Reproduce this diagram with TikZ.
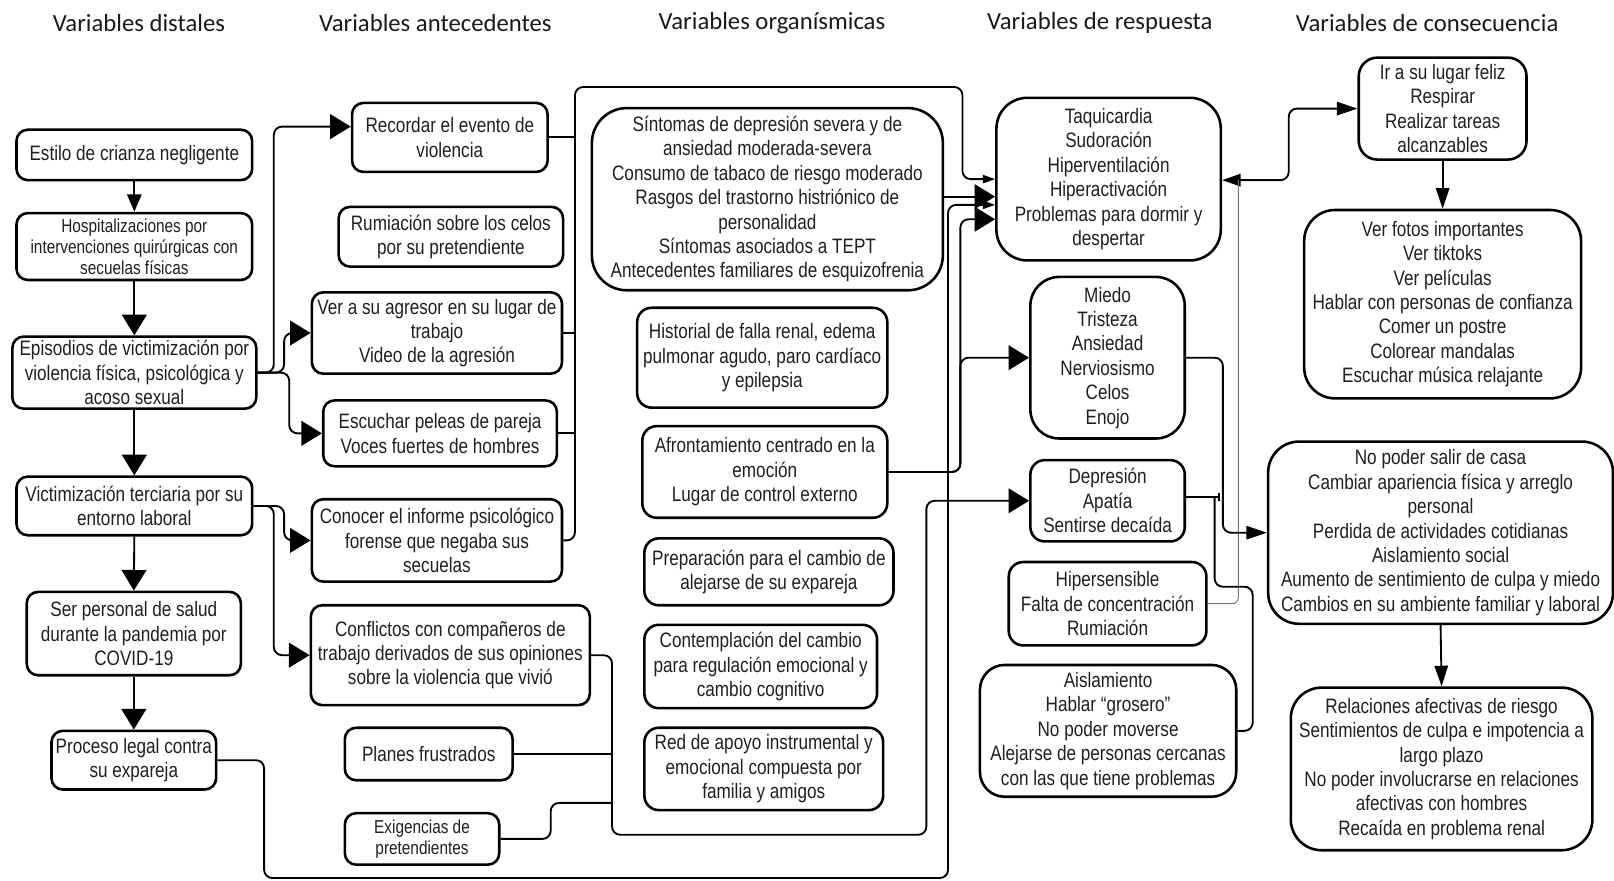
\documentclass[tikz,border=0pt]{standalone}
\usepackage{fontspec}
\usetikzlibrary{arrows.meta,calc}
\newfontfamily\headfont{Carlito}
\newfontfamily\boxfont[FakeStretch=0.82]{Liberation Sans}
\newcommand\bodyf{\boxfont\fontsize{20.3}{23.7}\selectfont}
\newcommand\smallf{\boxfont\fontsize{18.2}{20.5}\selectfont}

\begin{document}
\begin{tikzpicture}[x=1pt,y=-1pt,
  box/.style={draw, line width=2.5pt, rounded corners=#1, align=center,
    inner sep=0pt, font=\bodyf, text=black!88},
  box/.default=11pt,
  conn/.style={line width=1.8pt, rounded corners=8pt},
  tipbig/.style={-{Triangle[length=20pt,width=24pt]}},
  tipmed/.style={-{Triangle[length=20pt,width=13pt]}},
  tiptwo/.style={{Triangle[length=18pt,width=12pt]}-{Triangle[length=20pt,width=13pt]}},
  tipsmall/.style={-{Triangle[length=12pt,width=8pt]}},
  tipfirst/.style={-{Triangle[length=17pt,width=14pt]}},
  head/.style={font=\headfont\fontsize{24}{28}\selectfont, inner sep=0pt, text=black!90}]

\useasboundingbox (0,0) rectangle (1568,855);

% column headings
\node[head] (h1) at (135,22)    {Variables distales};
\node[head] (h2) at (423,22)    {Variables antecedentes};
\node[head] (h3) at (750,22)    {Variables organísmicas};
\node[head] (h4) at (1068.5,22) {Variables de respuesta};
\node[head] (h5) at (1386.5,22) {Variables de consecuencia};

% distal variables
\node[box, minimum width=229pt, minimum height=49pt] (estilo) at (130.5,150.5) {Estilo de crianza negligente};
\node[box, font=\smallf, minimum width=229pt, minimum height=65pt] (hosp) at (130.5,239.5) {Hospitalizaciones por\\intervenciones quirúrgicas con\\secuelas físicas};
\node[box, minimum width=237pt, minimum height=70pt] (epis) at (130.5,362) {Episodios de victimización por\\violencia física, psicológica y\\acoso sexual};
\node[box, minimum width=229pt, minimum height=57pt] (vict) at (130.5,491.5) {Victimización terciaria por su\\entorno laboral};
\node[box, minimum width=208pt, minimum height=81pt] (ser) at (130,615.5) {Ser personal de salud\\durante la pandemia por\\COVID-19};
\node[box, minimum width=160pt, minimum height=57pt] (proc) at (130,738.5) {Proceso legal contra\\su expareja};

% antecedent variables
\node[box, minimum width=190pt, minimum height=67pt] (recordar) at (437,133.5) {Recordar el evento de\\violencia};
\node[box, minimum width=218pt, minimum height=58pt] (rumia) at (438,230) {Rumiación sobre los celos\\por su pretendiente};
\node[box, minimum width=243pt, minimum height=79pt] (ver) at (424.5,323.5) {Ver a su agresor en su lugar de\\trabajo\\Video de la agresión};
\node[box, minimum width=227pt, minimum height=64pt] (esc) at (427.5,421) {Escuchar peleas de pareja\\Voces fuertes de hombres};
\node[box, minimum width=243pt, minimum height=80pt] (conocer) at (424.5,525) {Conocer el informe psicológico\\forense que negaba sus\\secuelas};
\node[box, minimum width=271pt, minimum height=97pt] (confl) at (437.5,636.5) {Conflictos con compañeros de\\trabajo derivados de sus opiniones\\sobre la violencia que vivió};
\node[box, minimum width=163pt, minimum height=51pt] (planes) at (416.5,732.5) {Planes frustrados};
\node[box, font=\smallf, minimum width=150pt, minimum height=50pt] (exig) at (410,815) {Exigencias de\\pretendientes};

% organismic variables
\node[box=34pt, minimum width=341pt, minimum height=177pt] (sint) at (745.5,193.5) {Síntomas de depresión severa y de\\ansiedad moderada-severa\\Consumo de tabaco de riesgo moderado\\Rasgos del trastorno histriónico de\\personalidad\\Síntomas asociados a TEPT\\Antecedentes familiares de esquizofrenia};
\node[box=14pt, minimum width=243pt, minimum height=97pt] (hist) at (740.5,347.5) {Historial de falla renal, edema\\pulmonar agudo, paro cardíaco\\y epilepsia};
\node[box=14pt, minimum width=238pt, minimum height=89pt] (afront) at (743,458.5) {Afrontamiento centrado en la\\emoción\\Lugar de control externo};
\node[box=14pt, minimum width=242pt, minimum height=65pt] (prep) at (747,555.5) {Preparación para el cambio de\\alejarse de su expareja};
\node[box=14pt, minimum width=226pt, minimum height=81pt] (contem) at (739,647.5) {Contemplación del cambio\\para regulación emocional y\\cambio cognitivo};
\node[box=14pt, minimum width=232pt, minimum height=80pt] (red) at (742,747) {Red de apoyo instrumental y\\emocional compuesta por\\familia y amigos};

% response variables
\node[box=30pt, minimum width=218pt, minimum height=158pt] (taq) at (1077,174) {Taquicardia\\Sudoración\\Hiperventilación\\Hiperactivación\\Problemas para dormir y\\despertar};
\node[box=28pt, minimum width=150pt, minimum height=157pt] (miedo) at (1076,347.5) {Miedo\\Tristeza\\Ansiedad\\Nerviosismo\\Celos\\Enojo};
\node[box=14pt, minimum width=150pt, minimum height=79pt] (dep) at (1076,486.5) {Depresión\\Apatía\\Sentirse decaída};
\node[box=14pt, minimum width=192pt, minimum height=81pt] (hiper) at (1076,586.5) {Hipersensible\\Falta de concentración\\Rumiación};
\node[box=24pt, minimum width=249pt, minimum height=128pt] (aisl) at (1076.5,710) {Aislamiento\\Hablar “grosero”\\No poder moverse\\Alejarse de personas cercanas\\con las que tiene problemas};

% consequence variables
\node[box=18pt, minimum width=163pt, minimum height=99pt] (ir) at (1401.5,105.5) {Ir a su lugar feliz\\Respirar\\Realizar tareas\\alcanzables};
\node[box=30pt, minimum width=269pt, minimum height=183pt] (fotos) at (1401.5,295.5) {Ver fotos importantes\\Ver tiktoks\\Ver películas\\Hablar con personas de confianza\\Comer un postre\\Colorear mandalas\\Escuchar música relajante};
\node[box=30pt, minimum width=335pt, minimum height=177pt] (nopoder) at (1399.5,517.5) {No poder salir de casa\\Cambiar apariencia física y arreglo\\personal\\Perdida de actividades cotidianas\\Aislamiento social\\Aumento de sentimiento de culpa y miedo\\Cambios en su ambiente familiar y laboral};
\node[box=30pt, minimum width=293pt, minimum height=158pt] (rel) at (1400.5,747) {Relaciones afectivas de riesgo\\Sentimientos de culpa e impotencia a\\largo plazo\\No poder involucrarse en relaciones\\afectivas con hombres\\Recaída en problema renal};

% chain of distal variables
\draw[conn, tipfirst] (estilo.south) -- (hosp.north);
\draw[conn, tipbig] (hosp.south) -- (epis.north);
\draw[conn, tipbig] (epis.south) -- (vict.north);
\draw[conn, tipbig] (vict.south) -- (ser.north);
\draw[conn, tipbig] (ser.south) -- (proc.north);

% distal to antecedent
\draw[conn, tipbig] (epis.east) -- (266,362) -- (266,123) -- ($(recordar.west)+(0,-10.5)$);
\draw[conn, tipbig] (epis.east) -- (276,362) -- (276,323.5) -- (ver.west);
\draw[conn, tipbig] (epis.east) -- (281,362) -- (281,421) -- (esc.west);
\draw[conn, tipbig] (vict.east) -- (266,491.5) -- (266,636.5) -- (confl.west);
\draw[conn, tipbig] (vict.east) -- (276,491.5) -- (276,525) -- (conocer.west);

% antecedent bus to the physiological responses
\draw[conn, tipsmall] (conocer.east) -- (558.6,525) -- (558.6,84.5) -- (935,84.5) -- (935,174) -- (taq.west);
\draw[conn] (recordar.east) -- (558.6,133.5);
\draw[conn] (ver.east) -- (558.6,323.5);
\draw[conn] (esc.east) -- (558.6,421);

% organismic to responses
\draw[conn, tipbig] ($(sint.east)+(0,-2.5)$) -- ($(taq.west)+(0,17)$);
\draw[conn, tipsmall] (proc.east) -- (256.6,738.5) -- (256.6,853) -- (921,853) -- (921,199) -- ($(taq.west)+(0,25)$);
\draw[conn, tipbig] (afront.east) -- (933,458.5) -- (933,213) -- ($(taq.west)+(0,39)$);
\draw[conn, tipbig] (afront.east) -- (933,458.5) -- (933,347.5) -- (miedo.west);

% lower antecedents to depression
\draw[conn, tipbig] (confl.east) -- (594.6,636.5) -- (594.6,811) -- (900,811) -- (900,486.5) -- (dep.west);
\draw[conn] (planes.east) -- (594.6,732.5);
\draw[conn] (exig.east) -- (535,815) -- (535,780) -- (594.6,780);

% responses to consequences
\draw[conn, tiptwo] ($(taq.east)+(0,1)$) -- (1252,175) -- (1252,105.5) -- (ir.west);
\draw[line width=1pt, black!55, rounded corners=6pt] (hiper.east) -- (1203,586.5) -- (1203,175);
\draw[conn, tipmed] (miedo.east) -- (1188,347.5) -- (1188,517.5) -- (nopoder.west);
\draw[conn] ($(dep.east)+(0,-3.5)$) -- (1184,483);
\draw[line width=1.6pt] (1184,479) -- (1184,487);
\draw[conn] (aisl.east) -- (1217,710) -- (1217,570) -- (1180,570) -- (1180,483);
\draw[conn, tipmed] (ir.south) -- (fotos.north);
\draw[conn, tipmed] (nopoder.south) -- (rel.north);

\end{tikzpicture}
\end{document}
